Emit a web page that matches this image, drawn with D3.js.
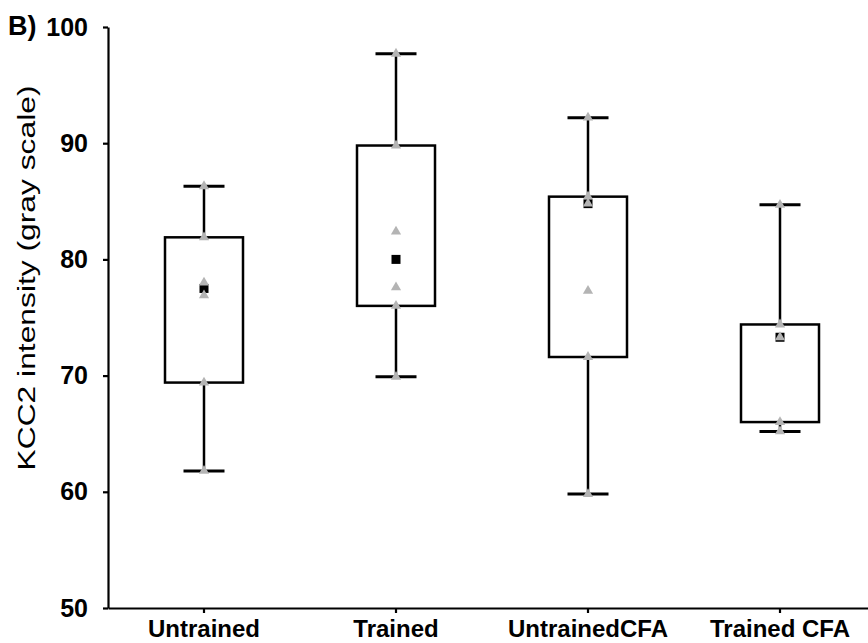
<!DOCTYPE html>
<html>
<head>
<meta charset="utf-8">
<script src="https://cdn.jsdelivr.net/npm/d3@7"></script>
<style>
  html, body { margin: 0; padding: 0; background: #fff; }
  svg text { font-family: "Liberation Sans", Arial, sans-serif; }
</style>
</head>
<body>
<svg id="chart" width="868" height="643"></svg>
<script>
// Groups and their box-plot summaries (KCC2 intensity, gray scale)
const groups   = ["Untrained", "Trained", "UntrainedCFA", "Trained CFA"];
const minVals  = [61.8, 69.9, 59.8, 65.2];
const q1Vals   = [69.4, 76.0, 71.6, 66.0];
const medians  = [77.5, 80.0, 84.8, 73.3];
const q3Vals   = [81.9, 89.8, 85.4, 74.4];
const maxVals  = [86.3, 97.7, 92.2, 84.7];
// Individual measurements per group
const points = [
  [86.3, 81.9, 78.0, 76.9, 69.4, 61.8],
  [97.7, 89.8, 82.4, 77.6, 76.0, 69.9],
  [92.2, 85.4, 84.8, 77.3, 71.6, 59.8],
  [84.7, 74.4, 73.3, 66.0, 65.2]
];
const yTicks = [50, 60, 70, 80, 90, 100];

const svg = d3.select("#chart");
const x = d3.scaleBand().domain(groups).range([108, 876]);
const y = d3.scaleLinear().domain([50, 100]).range([608, 27]);

const boxW = 78, capW = 41;

// Axes
const yAxis = svg.append("g").attr("transform", "translate(108,0)")
  .call(d3.axisLeft(y).tickValues(yTicks).tickSize(5).tickPadding(15).tickSizeOuter(0));
yAxis.select(".domain").attr("stroke", "#000").attr("stroke-width", 2.2);
yAxis.selectAll(".tick line").attr("stroke", "#000").attr("stroke-width", 2.2);
yAxis.selectAll(".tick text").attr("fill", "#000").attr("font-size", 25).attr("font-weight", "bold");

const xAxis = svg.append("g").attr("transform", "translate(0,608)")
  .call(d3.axisBottom(x).tickSize(5).tickPadding(8).tickSizeOuter(0));
xAxis.select(".domain").attr("stroke", "#000").attr("stroke-width", 2.2);
xAxis.selectAll(".tick line").attr("stroke", "#000").attr("stroke-width", 2.2);
xAxis.selectAll(".tick text").attr("fill", "#000").attr("font-size", 24).attr("font-weight", "bold")
  .attr("y", 29).attr("dy", 0);

// Y axis title
svg.append("text")
  .attr("transform", "translate(35,278) rotate(-90)")
  .attr("text-anchor", "middle")
  .attr("font-size", 23)
  .attr("textLength", 385)
  .attr("lengthAdjust", "spacingAndGlyphs")
  .text("KCC2 intensity (gray scale)");

// Panel letter
svg.append("text").attr("x", 8).attr("y", 35)
  .attr("font-size", 27).attr("font-weight", "bold").text("B)");

const data = groups.map((g, i) => ({
  g, min: minVals[i], q1: q1Vals[i], med: medians[i], q3: q3Vals[i], max: maxVals[i], pts: points[i]
}));

const gBox = svg.selectAll(".box").data(data).join("g").attr("class", "box")
  .attr("transform", d => `translate(${x(d.g) + x.bandwidth() / 2},0)`);

// Whiskers
gBox.append("line").attr("x1", 0).attr("x2", 0)
  .attr("y1", d => y(d.max)).attr("y2", d => y(d.q3))
  .attr("stroke", "#000").attr("stroke-width", 2.5);
gBox.append("line").attr("x1", 0).attr("x2", 0)
  .attr("y1", d => y(d.q1)).attr("y2", d => y(d.min))
  .attr("stroke", "#000").attr("stroke-width", 2.5);
gBox.append("line").attr("x1", -capW / 2).attr("x2", capW / 2)
  .attr("y1", d => y(d.max)).attr("y2", d => y(d.max))
  .attr("stroke", "#000").attr("stroke-width", 3);
gBox.append("line").attr("x1", -capW / 2).attr("x2", capW / 2)
  .attr("y1", d => y(d.min)).attr("y2", d => y(d.min))
  .attr("stroke", "#000").attr("stroke-width", 3);

// Box
gBox.append("rect")
  .attr("x", -boxW / 2).attr("width", boxW)
  .attr("y", d => y(d.q3)).attr("height", d => y(d.q1) - y(d.q3))
  .attr("fill", "#fff").attr("stroke", "#000").attr("stroke-width", 2.5);

// Median marker
gBox.append("rect")
  .attr("x", -4.5).attr("width", 9)
  .attr("y", d => y(d.med) - 4.5).attr("height", 9)
  .attr("fill", "#000");

// Individual points
const tri = d3.symbol().type(d3.symbolTriangle).size(45);
gBox.selectAll(".pt").data(d => d.pts).join("path").attr("class", "pt")
  .attr("d", tri)
  .attr("transform", v => `translate(0,${y(v)})`)
  .attr("fill", "#b4b4b4");
</script>
</body>
</html>
